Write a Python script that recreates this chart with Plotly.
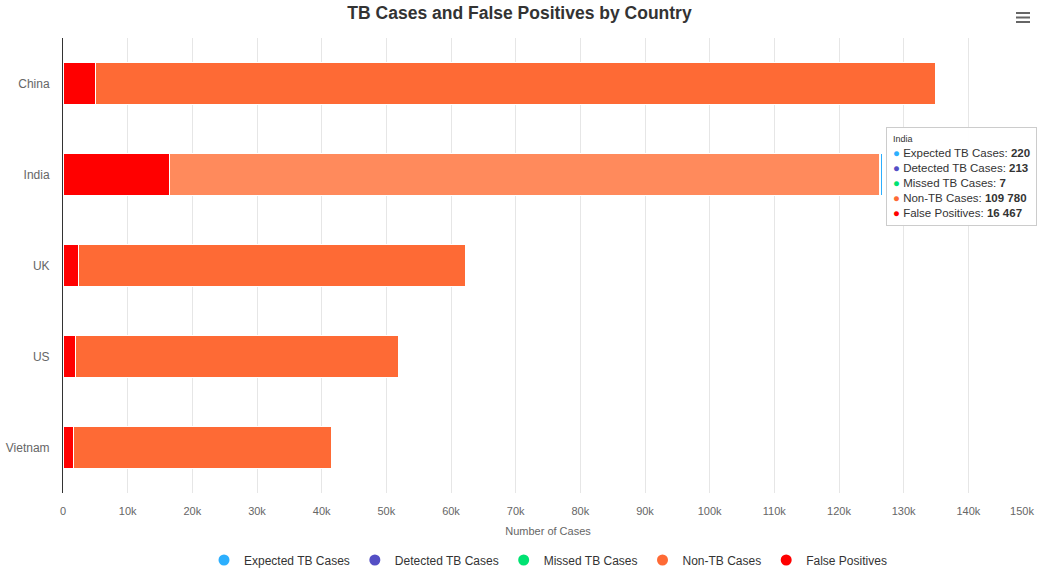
import plotly.graph_objects as go

# Data
countries = ["China", "India", "UK", "US", "Vietnam"]
false_positives = [5100, 16467, 2400, 2000, 1700]
non_tb_cases = [129800, 109780, 59900, 49900, 39750]
missed_tb = [5, 7, 3, 3, 2]
detected_tb = [45, 213, 27, 37, 23]
expected_tb = [50, 220, 30, 40, 25]

tick_vals = [i * 10000 for i in range(15)]
tick_text = ["0"] + [f"{i * 10}k" for i in range(1, 15)]
last_tick_val = [150000]
last_tick_text = ["150k"]

colors = {
    "Expected TB Cases": "#2caffe",
    "Detected TB Cases": "#544fc5",
    "Missed TB Cases": "#00e272",
    "Non-TB Cases": "#fe6a35",
    "False Positives": "#ff0000",
}

# India is shown in hover state (lighter)
non_tb_colors = ["#fe6a35", "#ff8a5c", "#fe6a35", "#fe6a35", "#fe6a35"]

fig = go.Figure()

# stacked left to right: FP, Non-TB, Missed, Detected, Expected
stack = [
    ("False Positives", false_positives, colors["False Positives"]),
    ("Non-TB Cases", non_tb_cases, non_tb_colors),
    ("Missed TB Cases", missed_tb, colors["Missed TB Cases"]),
    ("Detected TB Cases", detected_tb, colors["Detected TB Cases"]),
    ("Expected TB Cases", expected_tb, colors["Expected TB Cases"]),
]
for name, vals, col in stack:
    fig.add_trace(go.Bar(
        y=countries,
        x=vals,
        name=name,
        orientation="h",
        marker=dict(color=col, line=dict(color="#ffffff", width=1)),
        width=0.46,
        showlegend=False,
    ))

# legend entries with round symbols
for k, name in enumerate(["Expected TB Cases", "Detected TB Cases", "Missed TB Cases", "Non-TB Cases", "False Positives"]):
    fig.add_trace(go.Scatter(
        x=[None], y=[None], mode="markers", name=name,
        marker=dict(symbol="circle", size=11, color=colors[name]),
        xaxis="x2" if k == 0 else "x",
    ))

# tooltip shown for India
i = countries.index("India")
def fmt(v):
    return f"{v:,}".replace(",", " ")
tooltip = (
    "<span style='font-size:9px;color:#333'>India</span><br>"
    f"<span style='color:{colors['Expected TB Cases']}'>●</span> Expected TB Cases: <b>{fmt(expected_tb[i])}</b><br>"
    f"<span style='color:{colors['Detected TB Cases']}'>●</span> Detected TB Cases: <b>{fmt(detected_tb[i])}</b><br>"
    f"<span style='color:{colors['Missed TB Cases']}'>●</span> Missed TB Cases: <b>{fmt(missed_tb[i])}</b><br>"
    f"<span style='color:{colors['Non-TB Cases']}'>●</span> Non-TB Cases: <b>{fmt(non_tb_cases[i])}</b><br>"
    f"<span style='color:{colors['False Positives']}'>●</span> False Positives: <b>{fmt(false_positives[i])}</b>"
)

fig.update_layout(
    width=1039,
    height=569,
    margin=dict(l=63, r=6, t=38, b=76),
    paper_bgcolor="white",
    plot_bgcolor="white",
    font=dict(family="Liberation Sans, Arial, sans-serif", color="#666666", size=11),
    title=dict(
        text="<b>TB Cases and False Positives by Country</b>",
        x=0.5, xanchor="center", y=1 - 13 / 569, yanchor="middle",
        font=dict(size=17.5, color="#333333"),
    ),
    barmode="stack",
    bargap=0.54,
    xaxis=dict(
        range=[0, 150000],
        tickvals=tick_vals,
        ticktext=tick_text,
        ticklabelstandoff=10,
        automargin=False,
        showgrid=True,
        gridcolor="#e6e6e6",
        zeroline=False,
        showline=False,
        ticks="",
        tickfont=dict(size=11, color="#666666"),
        title=dict(text="Number of Cases", font=dict(size=11, color="#666666"), standoff=11),
    ),
    # last label is pulled inside the chart edge, as in the original
    xaxis2=dict(
        overlaying="x",
        matches="x",
        side="bottom",
        tickvals=last_tick_val,
        ticktext=last_tick_text,
        ticklabelshift=-11,
        ticklabelstandoff=10,
        ticklabeloverflow="allow",
        automargin=False,
        showgrid=False,
        zeroline=False,
        showline=False,
        ticks="",
        tickfont=dict(size=11, color="#666666"),
    ),
    yaxis=dict(
        range=[4.5, -0.5],
        automargin=False,
        showline=True,
        linecolor="#333333",
        linewidth=1,
        showgrid=False,
        ticks="",
        ticklen=0,
        ticklabelstandoff=10,
        tickfont=dict(size=12, color="#666666"),
    ),
    legend=dict(
        orientation="h",
        traceorder="normal",
        x=0.5, xanchor="center",
        yref="container",
        y=1 - 560 / 569, yanchor="middle",
        font=dict(size=12, color="#333333"),
        itemwidth=30,
    ),
    annotations=[
        dict(
            xref="paper", yref="paper",
            x=1.004, y=(493 - 127) / 455, xanchor="right", yanchor="top",
            text=tooltip, showarrow=False, align="left",
            bgcolor="rgba(255,255,255,0.95)", bordercolor="#cccccc", borderwidth=1, borderpad=6,
            font=dict(size=11.5, color="#333333"),
        ),
    ],
)

# export-menu icon (three bars)
for py in [13, 17.5, 22]:
    fig.add_shape(
        type="line", xref="paper", yref="paper",
        x0=(1016 - 63) / 970, x1=(1030 - 63) / 970,
        y0=(493 - py) / 455, y1=(493 - py) / 455,
        line=dict(color="#666666", width=2),
    )

# drop the default page margin so the figure sits at the window corner
fig.write_html(
    "out.html",
    config={"displayModeBar": False},
    post_script="document.body.style.margin='0';",
)
